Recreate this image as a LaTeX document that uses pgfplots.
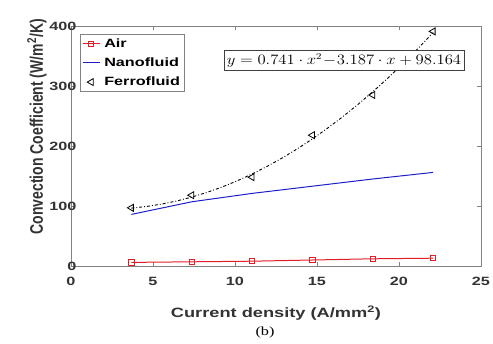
\documentclass[border=0pt]{standalone}
\usepackage{pgfplots}
\pgfplotsset{compat=1.18}
\usepackage{fontspec}
\setmainfont[FakeStretch=1.35]{Liberation Sans}
\newfontfamily\plainsans{Liberation Sans}
\newfontfamily\seriffont[FakeStretch=1.3]{Liberation Serif}
\definecolor{airred}{RGB}{225,30,40}
\definecolor{nanoblue}{RGB}{30,30,200}
\definecolor{axgray}{RGB}{130,130,130}
\begin{document}
\begin{tikzpicture}
\useasboundingbox (-71pt,-77pt) rectangle (422pt,266pt);
\begin{axis}[
  scale only axis, width=410pt, height=240pt,
  xmin=0, xmax=25, ymin=0, ymax=400,
  xtick={0,5,...,25}, ytick={0,100,...,400},
  tick align=inside, tick pos=both,
  major tick length=4pt,
  axis line style={axgray},
  every tick/.style={axgray},
  /pgf/number format/assume math mode=true,
  ticklabel style={font=\bfseries\fontsize{12}{13}\selectfont, text=black!80},
  xticklabel style={yshift=-8pt},
  yticklabel style={xshift=9pt},
  xlabel={Current density (A/mm\textsuperscript{2})},
  ylabel={\plainsans\fontsize{14}{16}\selectfont\scalebox{1}[1.3]{Convection Coefficient (W/m\textsuperscript{2}/K)}},
  label style={font=\bfseries\fontsize{13.5}{15}\selectfont, text=black!80},
  xlabel style={yshift=-13pt},
  ylabel style={at={(ticklabel cs:0.58)}, yshift=-4pt},
  legend style={at={(0.022,0.965)}, anchor=north west, draw=axgray, font=\bfseries\fontsize{12}{15}\selectfont, inner sep=2pt, row sep=5pt, cells={anchor=west}, /tikz/every odd column/.append style={column sep=2pt}},
  legend cell align=left,
]
\addplot[airred, line width=1pt, mark=square, mark size=2.6pt, mark options={solid, line width=0.8pt}] coordinates {
(3.68,6) (7.36,7) (11.04,8) (14.72,10) (18.4,12) (22.08,13)};
\addlegendentry{Air}
\addplot[nanoblue, line width=1pt] coordinates {
(3.68,86) (7.36,107) (11.04,121) (14.72,133) (18.4,145) (22.08,156)};
\addlegendentry{Nanofluid}
\addplot[only marks, black, mark=triangle, mark size=4pt, mark options={rotate=90, line width=0.8pt}] coordinates {
(3.68,97) (7.36,118) (11.04,148) (14.72,218) (18.4,285) (22.08,391)};
\addlegendentry{Ferrofluid}
\addplot[black, line width=0.9pt, dash dot, forget plot] coordinates {
(3.68,96.47) (4.6,99.18) (5.52,103.15) (6.44,108.37) (7.36,114.85) (8.28,122.58) (9.2,131.56) (10.12,141.80) (11.04,153.29) (11.96,166.04) (12.88,180.04) (13.8,195.30) (14.72,211.81) (15.64,229.58) (16.56,248.59) (17.48,268.86) (18.4,290.40) (19.32,313.18) (20.24,337.22) (21.16,362.51) (22.08,389.05)};
\node[draw=black!75, fill=white, line width=0.6pt, inner sep=3pt] at (axis cs:16.65,343) {\scalebox{1.16}[1]{\fontsize{13.5}{15}\selectfont$y = 0.741\cdot x^{2}\!-\!3.187\cdot x + 98.164$}};
\end{axis}
\node[font=\seriffont\fontsize{12.5}{15}\selectfont] at (194pt,-66pt) {(b)};
\end{tikzpicture}
\end{document}
